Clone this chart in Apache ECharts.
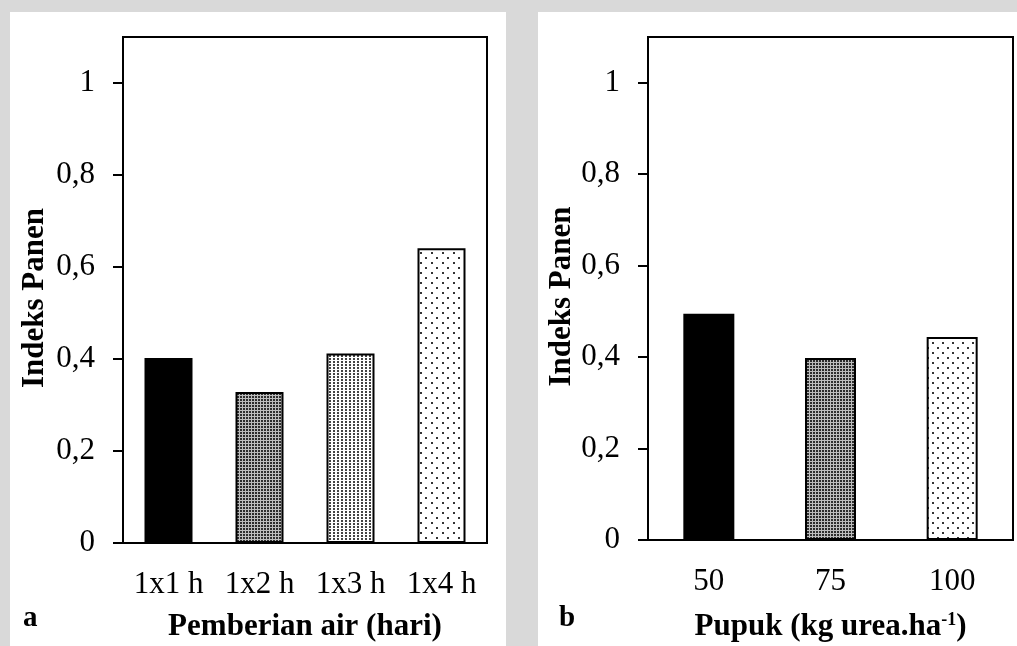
<!DOCTYPE html>
<html>
<head>
<meta charset="utf-8">
<script src="https://cdn.jsdelivr.net/npm/echarts@6/dist/echarts.min.js"></script>
<style>
  html, body { margin: 0; padding: 0; background: #d9d9d9; }
  #chart { width: 1017px; height: 646px; }
</style>
</head>
<body>
<div id="chart"></div>
<script>
// Panel a: watering interval
const catsA = ['1x1 h', '1x2 h', '1x3 h', '1x4 h'];
const valsA = [0.402, 0.328, 0.412, 0.641];
// Panel b: urea dose
const catsB = ['50', '75', '100'];
const valsB = [0.495, 0.398, 0.444];
// Shared y ticks
const yTicks = [0, 0.2, 0.4, 0.6, 0.8, 1];
const yTickLabels = ['0', '0,2', '0,4', '0,6', '0,8', '1'];

const FONT = '"Liberation Serif", "Times New Roman", serif';

// Fill patterns drawn on small tiles
function tile(w, h, bg, dots, dotColor, size) {
  const c = document.createElement('canvas');
  c.width = w; c.height = h;
  const g = c.getContext('2d');
  g.fillStyle = bg; g.fillRect(0, 0, w, h);
  g.fillStyle = dotColor;
  dots.forEach(([x, y]) => g.fillRect(x, y, size, size));
  return { image: c, repeat: 'repeat' };
}
const solid = '#000000';
const dense = tile(3, 3, '#bdbdbd', [[0, 0]], '#2e2e2e', 2);
const medium = tile(4, 3, '#ffffff', [[1, 1]], '#444444', 2);
const sparse = tile(11, 10, '#ffffff', [[2, 2], [7, 7]], '#333333', 2);
const spot = tile(10, 10, '#ffffff', [[2, 2], [7, 7]], '#333333', 2);

const fillsA = [solid, dense, medium, sparse];
const fillsB = [solid, dense, spot];

function items(vals, fills) {
  return vals.map((v, i) => ({ value: v, itemStyle: { color: fills[i] } }));
}

function yAxis(gridIndex, gap) {
  return {
    type: 'value', gridIndex, min: 0, max: 1.1,
    name: 'Indeks Panen', nameLocation: 'middle', nameGap: gap, nameRotate: 90,
    nameTextStyle: { fontFamily: FONT, fontSize: 31, fontWeight: 'bold', color: '#000', padding: [0, 16, 0, 0] },
    axisLine: { show: true, lineStyle: { color: '#000', width: 2 } },
    axisTick: { show: true, length: 10, lineStyle: { color: '#000', width: 2 }, customValues: yTicks },
    axisLabel: {
      margin: 28, fontFamily: FONT, fontSize: 31, color: '#000', customValues: yTicks,
      formatter: v => yTickLabels[yTicks.findIndex(t => Math.abs(t - v) < 1e-6)] ?? ''
    },
    splitLine: { show: false }
  };
}

function xAxis(gridIndex, cats, name, gap) {
  return {
    type: 'category', gridIndex, data: cats,
    name, nameLocation: 'middle', nameGap: gap,
    nameTextStyle: {
      fontFamily: FONT, fontSize: 31, fontWeight: 'bold', color: '#000',
      rich: { sup: { fontFamily: FONT, fontSize: 18, fontWeight: 'bold', color: '#000', verticalAlign: 'top', padding: [0, 0, 14, 0] } }
    },
    axisLine: { show: true, lineStyle: { color: '#000', width: 2 } },
    axisTick: { show: false },
    axisLabel: { margin: 26, fontFamily: FONT, fontSize: 31, color: '#000' },
    splitLine: { show: false }
  };
}

const chart = echarts.init(document.getElementById('chart'), null, { renderer: 'canvas' });
chart.setOption({
  backgroundColor: '#d9d9d9',
  animation: false,
  graphic: [
    { type: 'rect', z: -10, shape: { x: 10, y: 12, width: 496, height: 640 }, style: { fill: '#ffffff' } },
    { type: 'rect', z: -10, shape: { x: 538, y: 12, width: 480, height: 640 }, style: { fill: '#ffffff' } },
    { type: 'text', left: 23, top: 604, style: { text: 'a', font: 'bold 29px ' + FONT, fill: '#000' } },
    { type: 'text', left: 559, top: 604, style: { text: 'b', font: 'bold 29px ' + FONT, fill: '#000' } }
  ],
  grid: [
    { left: 123, top: 37, width: 364, height: 506, outerBoundsMode: 'none', show: true, borderColor: '#000', borderWidth: 2, backgroundColor: 'transparent' },
    { left: 648, top: 37, width: 365, height: 503, outerBoundsMode: 'none', show: true, borderColor: '#000', borderWidth: 2, backgroundColor: 'transparent' }
  ],
  xAxis: [
    xAxis(0, catsA, 'Pemberian air (hari)', 68),
    xAxis(1, catsB, 'Pupuk (kg urea.ha{sup|-1})', 71)
  ],
  yAxis: [yAxis(0, 73), yAxis(1, 71)],
  series: [
    {
      type: 'bar', xAxisIndex: 0, yAxisIndex: 0, barWidth: 48,
      itemStyle: { borderColor: '#000', borderWidth: 2 },
      data: items(valsA, fillsA)
    },
    {
      type: 'bar', xAxisIndex: 1, yAxisIndex: 1, barWidth: 51,
      itemStyle: { borderColor: '#000', borderWidth: 2 },
      data: items(valsB, fillsB)
    }
  ]
});
</script>
</body>
</html>
